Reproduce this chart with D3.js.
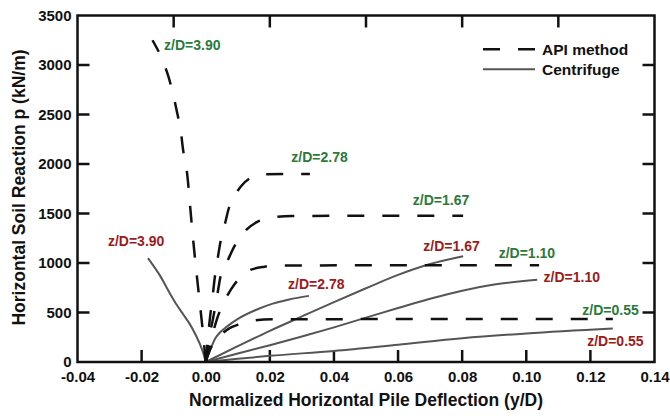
<!DOCTYPE html>
<html>
<head>
<meta charset="utf-8">
<script src="https://cdn.jsdelivr.net/npm/d3@7"></script>
<style>
  html, body { margin: 0; padding: 0; background: #fff; }
  svg { display: block; font-family: "Liberation Sans", Arial, sans-serif; font-weight: bold; }
</style>
</head>
<body>
<svg id="chart" width="670" height="416"></svg>
<script>
// ---------- data ----------
const xTickValues = [-0.04, -0.02, 0.00, 0.02, 0.04, 0.06, 0.08, 0.10, 0.12, 0.14];
const yTickValues = [0, 500, 1000, 1500, 2000, 2500, 3000, 3500];
const topTickValues = [-0.01, 0.02, 0.05, 0.08, 0.11];
const rightTickValues = [500, 1000, 1500, 2000, 2500, 3000];

// API method (dashed) curves: [y/D, p]
const api390 = [[0,0],[-0.001,340],[-0.002,640],[-0.003,940],[-0.004,1260],[-0.005,1620],[-0.006,1950],[-0.007,2130],[-0.008,2380],[-0.009,2530],[-0.010,2680],[-0.012,2920],[-0.014,3090],[-0.0166,3250]];
const api278 = [[0,0],[0.000625,222],[0.00125,424],[0.0022,676],[0.0028,847],[0.00375,1049],[0.0047,1231],[0.0059,1382],[0.0072,1553],[0.0091,1684],[0.0113,1785],[0.0138,1856],[0.0178,1896],[0.0325,1900]];
const api167 = [[0,0],[0.0009,222],[0.0022,424],[0.0037,696],[0.0047,878],[0.0069,1029],[0.0088,1160],[0.0122,1321],[0.0159,1412],[0.02,1455],[0.027,1475],[0.0803,1478]];
const api110 = [[0,0],[0.00125,171],[0.0025,323],[0.0034,424],[0.005,560],[0.0069,680],[0.0091,790],[0.0113,870],[0.0138,928],[0.0184,963],[0.0231,975],[0.104,978]];
const api055 = [[0,0],[0.00125,121],[0.0028,202],[0.0053,292],[0.0075,343],[0.0097,373],[0.0153,420],[0.0206,432],[0.127,435]];

// Centrifuge (solid) curves: [y/D, p]
const cen390 = [[0,0],[-0.001,115],[-0.003,265],[-0.005,385],[-0.007,480],[-0.009,575],[-0.0113,700],[-0.0144,880],[-0.018,1050]];
const cen278 = [[0,0],[0.0015,130],[0.003,240],[0.0045,300],[0.0065,355],[0.0103,440],[0.0156,525],[0.0209,590],[0.026,632],[0.0322,668]];
const cen167 = [[0,0],[0.01,160],[0.02,315],[0.03,460],[0.04,605],[0.05,745],[0.06,880],[0.07,990],[0.0803,1069]];
const cen110 = [[0,0],[0.01,85],[0.02,170],[0.03,258],[0.04,350],[0.05,448],[0.06,545],[0.07,638],[0.08,720],[0.09,782],[0.1034,830]];
const cen055 = [[0,0],[0.01,32],[0.02,62],[0.04,112],[0.06,175],[0.08,240],[0.10,288],[0.127,338]];

const apiCurves = [api390, api278, api167, api110, api055];
const cenCurves = [cen390, cen278, cen167, cen110, cen055];

// curve labels: text and anchor in data units
const apiLabelText = ["z/D=3.90", "z/D=2.78", "z/D=1.67", "z/D=1.10", "z/D=0.55"];
const apiLabelAt = [[-0.0042,3197],[0.0355,2068],[0.0734,1634],[0.1002,1099],[0.1263,524]];
const cenLabelText = ["z/D=3.90", "z/D=2.78", "z/D=1.67", "z/D=1.10", "z/D=0.55"];
const cenLabelAt = [[-0.0217,1220],[0.0345,787],[0.0767,1170],[0.1142,857],[0.1278,212]];

const legendNames = ["API method", "Centrifuge"];
const xTitle = "Normalized Horizontal Pile Deflection (y/D)";
const yTitle = "Horizontal Soil Reaction p (kN/m)";

// ---------- layout ----------
const W = 670, H = 416;
const m = { left: 77.5, right: 15.5, top: 15.5, bottom: 54 };
const iw = W - m.left - m.right, ih = H - m.top - m.bottom;
const green = "#2b7a3b", red = "#9b1b1b";

const svg = d3.select("#chart");
const g = svg.append("g").attr("transform", `translate(${m.left},${m.top})`);

const x = d3.scaleLinear().domain([-0.04, 0.14]).range([0, iw]);
const y = d3.scaleLinear().domain([0, 3500]).range([ih, 0]);

const tickLen = 12;
const fmtX = d => d3.format(".2f")(d).replace("\u2212", "-");

// bottom axis
const xAxis = d3.axisBottom(x).tickValues(xTickValues).tickSize(0).tickPadding(9).tickFormat(fmtX);
const gx = g.append("g").attr("transform", `translate(0,${ih})`).call(xAxis);
gx.select(".domain").remove();
gx.selectAll("text").attr("font-size", 15).attr("font-weight", "bold").attr("fill", "#111")
  .attr("font-family", "Liberation Sans, Arial, sans-serif");

// left axis
const yAxis = d3.axisLeft(y).tickValues(yTickValues).tickSize(0).tickPadding(6).tickFormat(d3.format("d"));
const gy = g.append("g").call(yAxis);
gy.select(".domain").remove();
gy.selectAll("text").attr("font-size", 15).attr("font-weight", "bold").attr("fill", "#111")
  .attr("font-family", "Liberation Sans, Arial, sans-serif");

// inward ticks
const tickG = g.append("g").attr("stroke", "#111").attr("stroke-width", 2.5);
xTickValues.filter(v => v > -0.04 && v < 0.14).forEach(v => {
  tickG.append("line").attr("x1", x(v)).attr("x2", x(v)).attr("y1", ih).attr("y2", ih - tickLen);
});
topTickValues.forEach(v => {
  tickG.append("line").attr("x1", x(v)).attr("x2", x(v)).attr("y1", 0).attr("y2", tickLen);
});
yTickValues.filter(v => v > 0 && v < 3500).forEach(v => {
  tickG.append("line").attr("x1", 0).attr("x2", tickLen).attr("y1", y(v)).attr("y2", y(v));
});
rightTickValues.forEach(v => {
  tickG.append("line").attr("x1", iw).attr("x2", iw - tickLen).attr("y1", y(v)).attr("y2", y(v));
});

// curves
const lineY = d3.line().x(d => x(d[0])).y(d => y(d[1])).curve(d3.curveMonotoneY);
const lineX = d3.line().x(d => x(d[0])).y(d => y(d[1])).curve(d3.curveMonotoneX);
const pick = pts => (pts[pts.length - 1][0] < 0 ? lineY : lineX);

g.append("g").selectAll("path").data(cenCurves).join("path")
  .attr("d", d => pick(d)(d))
  .attr("fill", "none").attr("stroke", "#555").attr("stroke-width", 2);

g.append("g").selectAll("path").data(apiCurves).join("path")
  .attr("d", d => pick(d)(d))
  .attr("fill", "none").attr("stroke", "#111").attr("stroke-width", 2.5)
  .attr("stroke-dasharray", "17,18");

// frame
g.append("rect").attr("x", 0).attr("y", 0).attr("width", iw).attr("height", ih)
  .attr("fill", "none").attr("stroke", "#111").attr("stroke-width", 2.5);

// curve labels
g.append("g").selectAll("text").data(apiLabelText).join("text")
  .attr("x", (d, i) => x(apiLabelAt[i][0])).attr("y", (d, i) => y(apiLabelAt[i][1]))
  .attr("dy", "0.35em").attr("text-anchor", "middle").attr("font-size", 14)
  .attr("fill", green).text(d => d);
g.append("g").selectAll("text").data(cenLabelText).join("text")
  .attr("x", (d, i) => x(cenLabelAt[i][0])).attr("y", (d, i) => y(cenLabelAt[i][1]))
  .attr("dy", "0.35em").attr("text-anchor", "middle").attr("font-size", 14)
  .attr("fill", red).text(d => d);

// legend
const lg = svg.append("g").attr("transform", "translate(483,49.3)");
lg.append("line").attr("x1", 0).attr("x2", 52).attr("y1", 0).attr("y2", 0)
  .attr("stroke", "#111").attr("stroke-width", 2.5).attr("stroke-dasharray", "17,18");
lg.append("line").attr("x1", 0).attr("x2", 52).attr("y1", 20).attr("y2", 20)
  .attr("stroke", "#555").attr("stroke-width", 2);
lg.selectAll("text").data(legendNames).join("text")
  .attr("x", 59).attr("y", (d, i) => i * 20).attr("dy", "0.35em")
  .attr("font-size", 15.5).attr("fill", "#111").text(d => d);

// axis titles
svg.append("text").attr("x", m.left + iw / 2).attr("y", 406).attr("text-anchor", "middle")
  .attr("font-size", 17.5).attr("fill", "#111").text(xTitle);
svg.append("text").attr("transform", "translate(25,187.5) rotate(-90)").attr("text-anchor", "middle")
  .attr("font-size", 17.5).attr("fill", "#111").text(yTitle);
</script>
</body>
</html>
